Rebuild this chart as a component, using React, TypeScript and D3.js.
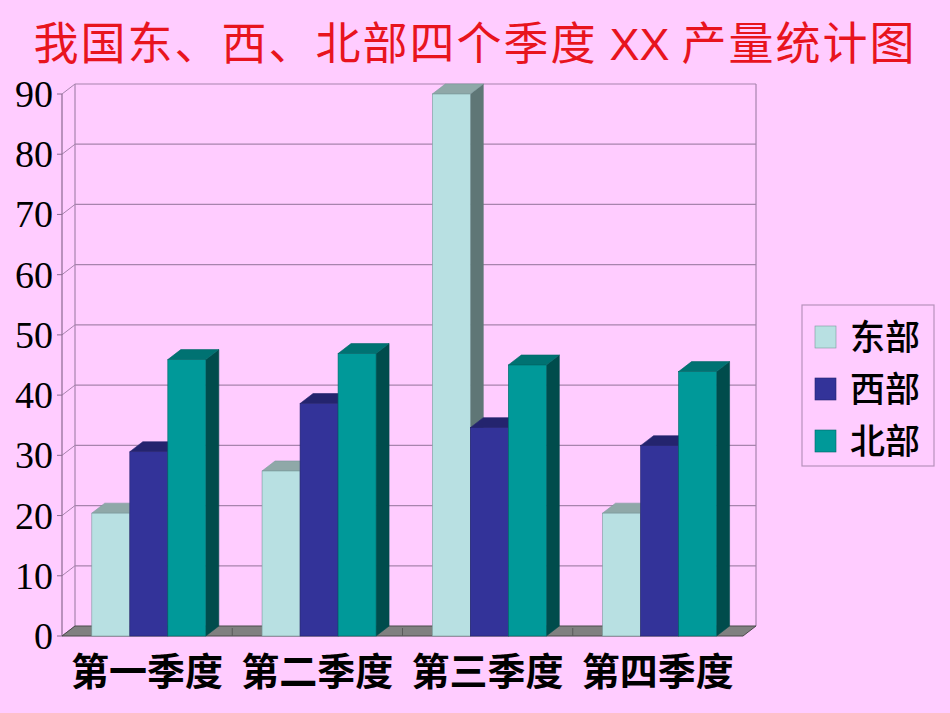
import React from 'react';
import * as d3 from 'd3';

const quarters = ['第一季度', '第二季度', '第三季度', '第四季度'];
const seriesNames = ['东部', '西部', '北部'];
const eastValues = [20.4, 27.4, 90, 20.4];
const westValues = [30.6, 38.6, 34.6, 31.6];
const northValues = [45.9, 46.9, 45, 43.9];
const yTicks = [0, 10, 20, 30, 40, 50, 60, 70, 80, 90];

// front / top / side shades per series
const PALETTE = [
  { front: '#B8E0E2', top: '#8FA8A8', side: '#5F7676', edge: '#7A9A9C' },
  { front: '#333399', top: '#24246E', side: '#1E1E5A', edge: '#24246E' },
  { front: '#009999', top: '#007272', side: '#004C4C', edge: '#006666' },
];

const W = 950;
const H = 713;
const DX = 13; // depth offset of the 3D walls
const DY = -10;

const App: React.FC = () => {
  const left = 62;
  const right = 743;
  const y = d3.scaleLinear().domain([0, 90]).range([636, 94]);
  const x = d3.scaleBand().domain(quarters).range([left, right]).padding(0);
  const inner = d3
    .scaleBand()
    .domain(seriesNames)
    .range([0, x.bandwidth()])
    .paddingInner(0)
    .paddingOuter(0.74)
    .align(0.53);

  const values = [eastValues, westValues, northValues];
  const y0 = y(0);
  const yTop = y(90);
  const gridColor = '#A784AD';

  const bars: React.ReactNode[] = [];
  quarters.forEach((q, qi) => {
    seriesNames.forEach((s, si) => {
      const v = values[si][qi];
      const bx = (x(q) ?? 0) + (inner(s) ?? 0);
      const bw = inner.bandwidth();
      const by = y(v);
      const c = PALETTE[si];
      const top = `M${bx},${by}L${bx + DX},${by + DY}L${bx + bw + DX},${by + DY}L${bx + bw},${by}Z`;
      const side = `M${bx + bw},${by}L${bx + bw + DX},${by + DY}L${bx + bw + DX},${y0 + DY}L${bx + bw},${y0}Z`;
      bars.push(
        <g key={`${q}-${s}`}>
          <path d={side} fill={c.side} stroke={c.side} strokeWidth={0.6} />
          <path d={top} fill={c.top} stroke={c.edge} strokeWidth={0.6} />
          <rect x={bx} y={by} width={bw} height={y0 - by} fill={c.front} stroke={c.edge} strokeWidth={0.6} />
        </g>
      );
    });
  });

  const floor = `M${left},${y0}L${right},${y0}L${right + DX},${y0 + DY}L${left + DX},${y0 + DY}Z`;

  return (
    <svg
      width={W}
      height={H}
      style={{ position: 'absolute', left: 0, top: 0, display: 'block' }}
    >
      <rect width={W} height={H} fill="#FFCCFF" />

      {/* title */}
      <text
        x={W / 2}
        y={60}
        textAnchor="middle"
        fontSize={45}
        letterSpacing={2}
        fill="#E8141E"
        fontFamily="'Noto Sans CJK SC', sans-serif"
      >
        我国东、西、北部四个季度 <tspan fontFamily="'Liberation Sans', Arial, sans-serif" letterSpacing={0}>XX</tspan> 产量统计图
      </text>

      {/* back wall grid */}
      {yTicks.map((t) => (
        <g key={t}>
          {t > 0 && (
            <line
              x1={left + DX}
              x2={right + DX}
              y1={y(t) + DY}
              y2={y(t) + DY}
              stroke={gridColor}
              strokeWidth={1.2}
            />
          )}
          <line
            x1={left}
            x2={left + DX}
            y1={y(t)}
            y2={y(t) + DY}
            stroke={gridColor}
            strokeWidth={1}
          />
          <line x1={left - 5} x2={left} y1={y(t)} y2={y(t)} stroke="#8A6A90" strokeWidth={1} />
        </g>
      ))}
      <line x1={left + DX} x2={left + DX} y1={yTop + DY} y2={y0 + DY} stroke={gridColor} strokeWidth={1.2} />
      <line x1={right + DX} x2={right + DX} y1={yTop + DY} y2={y0 + DY} stroke={gridColor} strokeWidth={1.2} />
      <line x1={left} x2={left} y1={yTop} y2={y0} stroke="#8A6A90" strokeWidth={1.2} />

      {/* floor */}
      <path d={floor} fill="#808080" stroke="#4A4A4A" strokeWidth={1} />
      {quarters.slice(1).map((q) => (
        <line
          key={q}
          x1={x(q)}
          x2={x(q)}
          y1={y0}
          y2={y0 - 8}
          stroke="#5A5A5A"
          strokeWidth={1}
        />
      ))}

      {bars}

      {/* y tick labels */}
      {yTicks.map((t) => (
        <text
          key={t}
          x={53}
          y={y(t) + 13}
          textAnchor="end"
          fontSize={38}
          fontFamily="'Liberation Serif', 'Times New Roman', serif"
          fill="#000"
        >
          {t}
        </text>
      ))}

      {/* category labels */}
      {quarters.map((q) => (
        <text
          key={q}
          x={(x(q) ?? 0) + x.bandwidth() / 2}
          y={685}
          textAnchor="middle"
          fontSize={38}
          fontWeight={700}
          fontFamily="'Noto Sans CJK SC', sans-serif"
          fill="#000"
        >
          {q}
        </text>
      ))}

      {/* legend */}
      <rect x={802} y={305} width={132} height={161} fill="#FFCCFF" stroke="#B792BC" strokeWidth={1.2} />
      {seriesNames.map((s, i) => (
        <g key={s} transform={`translate(815, ${326 + i * 52})`}>
          <rect width={21} height={22} fill={PALETTE[i].front} stroke={PALETTE[i].edge} strokeWidth={0.6} />
          <text
            x={35}
            y={24}
            fontSize={35}
            fontWeight={500}
            fontFamily="'Noto Sans CJK SC', sans-serif"
            fill="#000"
          >
            {s}
          </text>
        </g>
      ))}
    </svg>
  );
};

export default App;
